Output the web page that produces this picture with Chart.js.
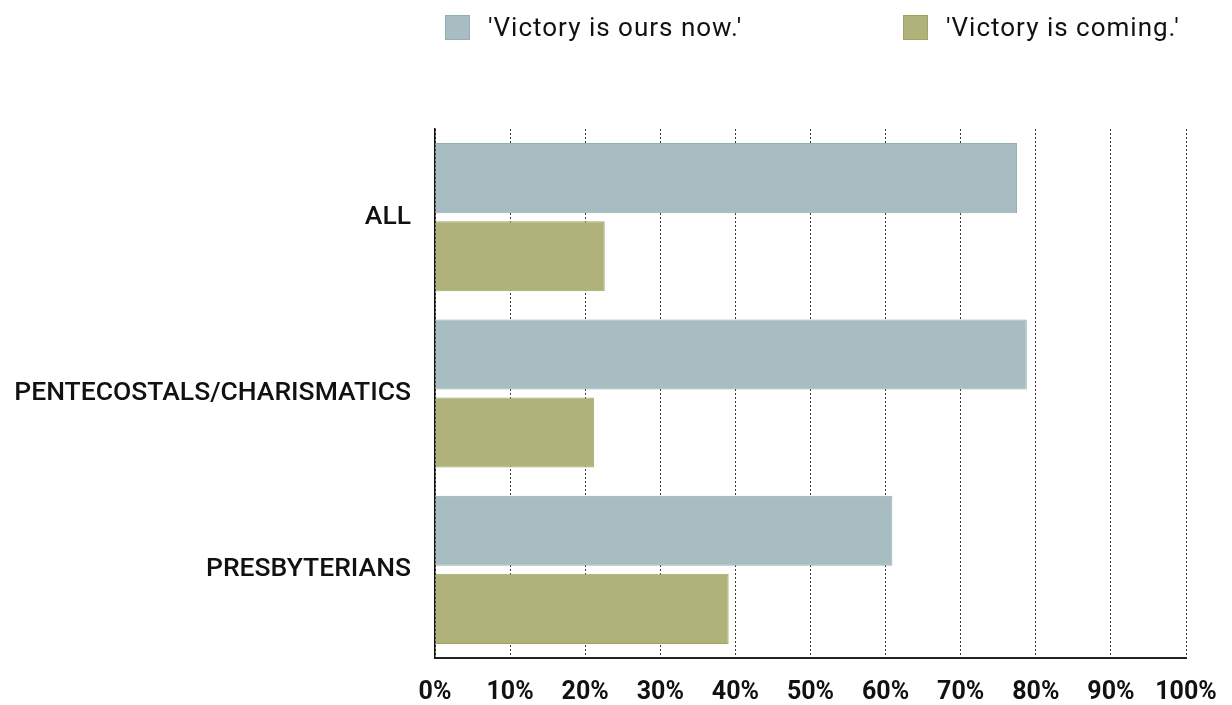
<!DOCTYPE html>
<html>
<head>
<meta charset="utf-8">
<script src="https://cdn.jsdelivr.net/npm/chart.js@4/dist/chart.umd.min.js"></script>
<style>
  html, body { margin: 0; padding: 0; background: #fff; }
  #wrap { position: relative; width: 1232px; height: 705px; }
  #legend { position: absolute; top: 0; left: 0; width: 1232px; height: 60px; font-family: Roboto, 'Noto Sans', sans-serif; font-size: 26px; letter-spacing: 1px; color: #111; }
  .lg-item { position: absolute; top: 13px; display: flex; align-items: center; height: 28px; }
  .lg-box { width: 25px; height: 25px; box-sizing: border-box; margin-right: 18px; }
</style>
</head>
<body>
<div id="wrap">
  <div id="legend"></div>
  <canvas id="chart" width="1232" height="705"></canvas>
</div>
<script>
// data
const categories = ['ALL', 'PENTECOSTALS/CHARISMATICS', 'PRESBYTERIANS'];
const seriesNames = ["'Victory is ours now.'", "'Victory is coming.'"];
const victoryNow = [77.5, 78.8, 60.9];
const victoryComing = [22.6, 21.2, 39.1];
const tickMin = 0, tickMax = 100, tickStep = 10;

// colours
const blueFill = '#a7bdc1', blueLine = '#94aeb3';
const greenFill = '#afb27a', greenLine = '#a3a55c';

const ctx = document.getElementById('chart');
const chart = new Chart(ctx, {
  type: 'bar',
  data: {
    labels: categories,
    datasets: [
      { label: seriesNames[0], data: victoryNow, backgroundColor: blueFill, borderColor: blueLine, borderWidth: 1 },
      { label: seriesNames[1], data: victoryComing, backgroundColor: greenFill, borderColor: greenLine, borderWidth: 1 }
    ]
  },
  options: {
    indexAxis: 'y',
    responsive: false,
    devicePixelRatio: 1,
    animation: false,
    categoryPercentage: 0.886,
    barPercentage: 0.897,
    layout: { padding: { top: 129, right: 46, left: 0, bottom: 0 } },
    plugins: { legend: { display: false }, tooltip: { enabled: false } },
    scales: {
      x: {
        min: tickMin, max: tickMax,
        ticks: {
          stepSize: tickStep,
          callback: v => v + '%',
          color: '#111',
          padding: 20,
          font: { family: "Roboto, sans-serif", size: 25, weight: 'bold' }
        },
        grid: { display: true, color: '#3a3a3a', drawTicks: false, lineWidth: 1 },
        border: { display: true, color: '#222', width: 2, dash: [2, 2] },
        // keep the plot edge fixed, labels may hang over the padding
        afterFit: s => { s.height = 47; s.paddingLeft = 0; s.paddingRight = 0; }
      },
      y: {
        ticks: {
          color: '#111',
          padding: 24,
          font: { family: "Roboto, sans-serif", size: 26.5, weight: '500' }
        },
        grid: { display: false, drawTicks: false },
        border: { display: true, color: '#111', width: 1.5 },
        afterFit: s => { s.width = 435; }
      }
    }
  }
});

// legend (html, built from the datasets)
const legend = document.getElementById('legend');
const legendX = [[445, 488], [903, 947]];
chart.data.datasets.forEach((ds, i) => {
  const item = document.createElement('div');
  item.className = 'lg-item';
  item.style.left = legendX[i][0] + 'px';
  item.innerHTML = `<span class="lg-box" style="background:${ds.backgroundColor};border:1px solid ${ds.borderColor}"></span><span>${ds.label}</span>`;
  legend.appendChild(item);
});
</script>
</body>
</html>
